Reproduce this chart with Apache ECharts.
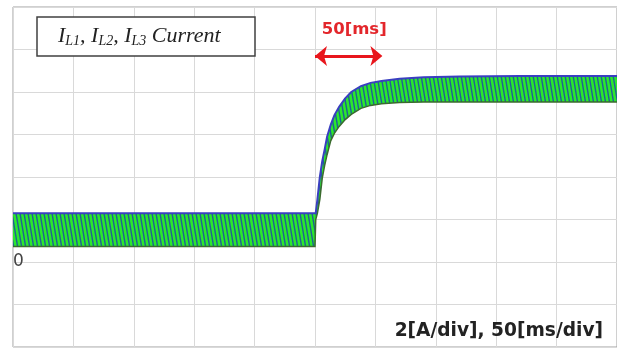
<!DOCTYPE html>
<html>
<head>
<meta charset="utf-8">
<script src="https://cdn.jsdelivr.net/npm/echarts@6/dist/echarts.min.js"></script>
<style>
  html, body { margin: 0; padding: 0; background: #fff; }
  #chart { width: 617px; height: 348px; }
</style>
</head>
<body>
<div id="chart"></div>
<script>
// Envelope of the three interleaved inductor currents (A) against time (ms)
const timeMs = [0, 250, 250.6, 252, 254, 256, 258, 260, 263, 266, 270, 275, 280, 288, 296, 305, 320, 340, 370, 420, 500];
const upperA = [2.3, 2.3, 2.3, 2.95, 4.0, 4.75, 5.3, 5.9, 6.45, 6.9, 7.3, 7.7, 8.0, 8.28, 8.43, 8.52, 8.62, 8.69, 8.73, 8.75, 8.75];
const lowerA = [0.73, 0.73, 2.0, 2.3, 2.95, 3.95, 4.55, 5.05, 5.7, 6.05, 6.38, 6.7, 6.95, 7.23, 7.37, 7.45, 7.51, 7.53, 7.53, 7.53, 7.53];

// Scope divisions: 50 ms/div and 2 A/div
const timeDiv = [0, 500, 50];
const currentDiv = [-4, 12, 2];
const yTickLabels = ['0'];

// Annotated interval after the load step
const spanMs = [250, 300];
const spanLevelA = 9.7;
const spanText = '50[ms]';
const scaleText = '2[A/div], 50[ms/div]';
const legendParts = [['I', 'L1'], ['I', 'L2'], ['I', 'L3']];

// Ripple texture of the overlapped phase currents
function rippleTexture() {
  const c = document.createElement('canvas');
  c.width = 4; c.height = 24;
  const g = c.getContext('2d');
  g.fillStyle = '#2be82b';
  g.fillRect(0, 0, 4, 24);
  g.strokeStyle = '#1f5f96';
  g.lineWidth = 1.4;
  for (let k = -1; k <= 1; k++) {
    g.beginPath();
    g.moveTo(k * 4 + 0.5, 0);
    g.lineTo(k * 4 + 4.5, 24);
    g.stroke();
  }
  return c;
}
const texture = { image: rippleTexture(), repeat: 'repeat' };

// Legend text pieces laid out with measured widths
function legendElements(x0, baseline) {
  const mainSize = 22, subSize = 14;
  const mainFont = 'italic ' + mainSize + 'px "Liberation Serif"';
  const subFont = 'italic ' + subSize + 'px "Liberation Serif"';
  const m = document.createElement('canvas').getContext('2d');
  const pieces = [];
  legendParts.forEach((p, i) => {
    pieces.push({ t: p[0], sub: false });
    pieces.push({ t: p[1], sub: true });
    pieces.push({ t: i < legendParts.length - 1 ? ', ' : ' Current', sub: false });
  });
  const els = [];
  let x = x0;
  pieces.forEach(p => {
    const font = p.sub ? subFont : mainFont;
    const fs = p.sub ? subSize : mainSize;
    m.font = font;
    const w = m.measureText(p.t).width;
    els.push({
      type: 'text', z: 12,
      x: x,
      y: (p.sub ? baseline + 3 : baseline) - 0.305 * fs,
      style: { text: p.t, font: font, fill: '#222', verticalAlign: 'middle', align: 'left' }
    });
    x += w;
  });
  return els;
}

// Band between the lower and upper envelope, drawn once through the grid's scales
function renderBand(params, api) {
  if (params.dataIndex !== 0) return;
  const top = timeMs.map((t, i) => api.coord([t, upperA[i]]));
  const bot = timeMs.map((t, i) => api.coord([t, lowerA[i]]));
  const outline = top.concat(bot.slice().reverse());
  return {
    type: 'group',
    children: [
      { type: 'polygon', shape: { points: outline }, style: { fill: texture, stroke: null } },
      { type: 'polyline', shape: { points: bot }, style: { fill: null, stroke: '#3a6b2e', lineWidth: 1.5 } },
      { type: 'polyline', shape: { points: top }, style: { fill: null, stroke: '#3a3fc0', lineWidth: 2 } }
    ]
  };
}

const chart = echarts.init(document.getElementById('chart'), null, { renderer: 'canvas' });

chart.setOption({
  animation: false,
  backgroundColor: '#fff',
  grid: {
    left: 13, top: 7, width: 604, height: 340,
    show: true, borderColor: '#a0a0a0', borderWidth: 1, backgroundColor: 'transparent'
  },
  xAxis: {
    type: 'value', min: timeDiv[0], max: timeDiv[1], interval: timeDiv[2],
    axisLine: { show: false }, axisTick: { show: false }, axisLabel: { show: false },
    splitLine: { show: true, lineStyle: { color: '#d9d9d9', width: 1 } }
  },
  yAxis: {
    type: 'value', min: currentDiv[0], max: currentDiv[1], interval: currentDiv[2],
    axisLine: { show: false }, axisTick: { show: false },
    axisLabel: {
      show: true, inside: true, margin: 0,
      color: '#444', fontSize: 17, fontFamily: 'DejaVu Sans',
      formatter: v => (yTickLabels.indexOf(String(v)) >= 0 ? String(v) : '')
    },
    splitLine: { show: true, lineStyle: { color: '#d9d9d9', width: 1 } }
  },
  series: [
    {
      name: 'IL',
      type: 'custom',
      coordinateSystem: 'cartesian2d',
      silent: true,
      clip: true,
      encode: { x: 0, y: [1, 2] },
      data: timeMs.map((t, i) => [t, lowerA[i], upperA[i]]),
      renderItem: renderBand,
      markLine: {
        silent: true,
        symbol: ['arrow', 'arrow'],
        symbolSize: [15, 12],
        symbolOffset: [[0, 0], [0, -7]],
        lineStyle: { color: '#e8161c', width: 3, type: 'solid' },
        label: {
          show: true, formatter: spanText, position: 'insideMiddleTop', distance: 18,
          offset: [9, 0],
          color: '#e3262b', fontFamily: 'DejaVu Sans', fontWeight: 'bold', fontSize: 16.5
        },
        emphasis: { disabled: true },
        data: [[{ coord: [spanMs[0], spanLevelA] }, { coord: [spanMs[1], spanLevelA] }]]
      }
    }
  ],
  graphic: [
    {
      type: 'rect', z: 10,
      shape: { x: 37, y: 17, width: 218, height: 39 },
      style: { fill: '#fff', stroke: '#404040', lineWidth: 1.5 }
    },
    {
      type: 'group', z: 12,
      children: legendElements(58, 43)
    },
    {
      type: 'text', z: 11,
      x: 603, y: 331,
      style: {
        text: scaleText, fill: '#222', align: 'right', verticalAlign: 'middle',
        font: 'bold 18.6px "DejaVu Sans"'
      }
    }
  ]
});
</script>
</body>
</html>
